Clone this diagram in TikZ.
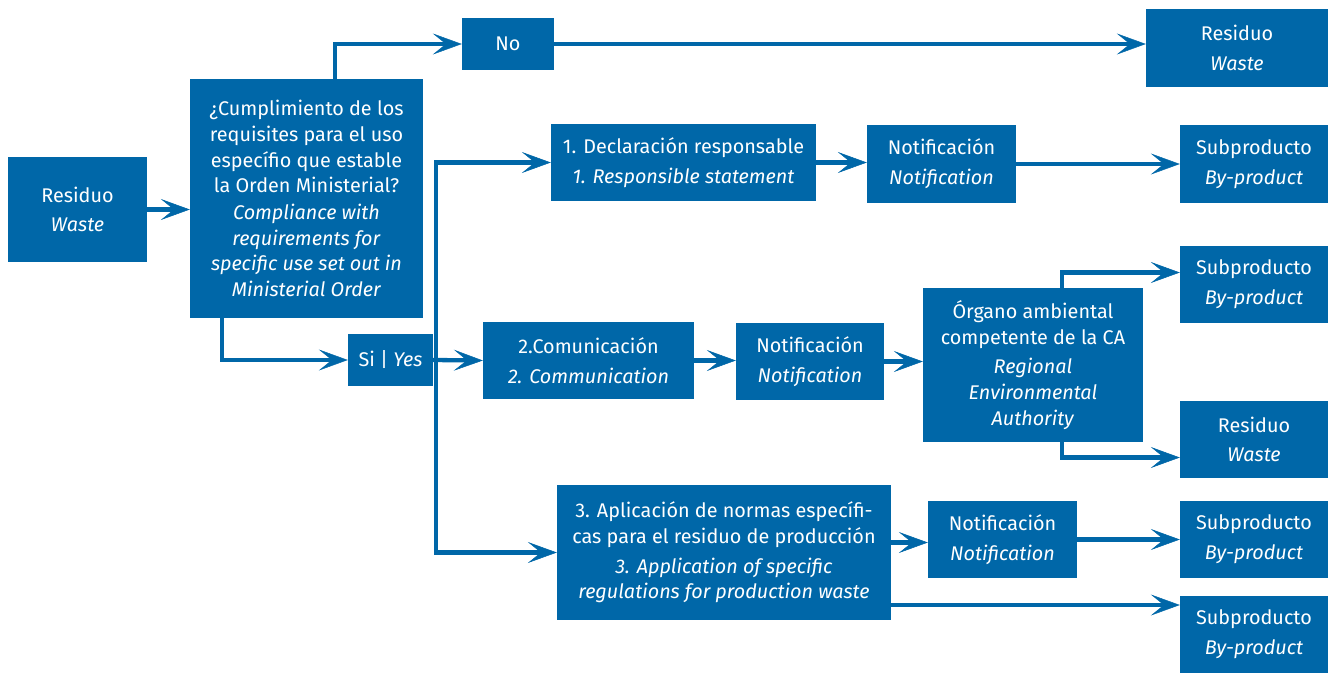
\documentclass[tikz,border=0pt]{standalone}
\usepackage{fontspec}
\setmainfont{Fira Sans}
\usetikzlibrary{arrows.meta,calc}
\definecolor{mblue}{RGB}{0,103,168}
\begin{document}
\begin{tikzpicture}[x=1pt,y=-1pt,
  box/.style={fill=mblue,text=white,align=center,inner sep=0pt,font=\fontsize{19.8}{25.7}\selectfont},
  ln/.style={draw=mblue,line width=4.3pt},
  arr/.style={ln,-{Stealth[length=29pt,width=21pt,inset=13pt,line width=0.5pt]}}]
\useasboundingbox (0,0) rectangle (1330,675);
% boxes
\node[box,minimum width=139pt,minimum height=105pt] (res) at (77.5,209.5) {Residuo\\[4pt]\textit{Waste}};
\node[box,minimum width=233pt,minimum height=239pt] (q) at (306.5,198.5) {¿Cumplimiento de los\\requisites para el uso\\específio que estable\\la Orden Ministerial?\\[1pt]\textit{Compliance with}\\\textit{requirements for}\\\textit{specific use set out in}\\\textit{Ministerial Order}};
\node[box,minimum width=92pt,minimum height=52pt] (no) at (508,44) {No};
\node[box,minimum width=182pt,minimum height=78pt] (rtr) at (1237,48) {Residuo\\[4pt]\textit{Waste}};
\node[box,minimum width=265pt,minimum height=77pt] (decl) at (683.5,162.5) {1. Declaración responsable\\[4pt]\textit{1. Responsible statement}};
\node[box,minimum width=149pt,minimum height=78pt] (not1) at (941.5,164) {Notificación\\[4pt]\textit{Notification}};
\node[box,minimum width=148pt,minimum height=78pt] (sub1) at (1254,164) {Subproducto\\[4pt]\textit{By-product}};
\node[box,minimum width=148pt,minimum height=77pt] (sub2) at (1254,284.5) {Subproducto\\[4pt]\textit{By-product}};
\node[box,minimum width=220pt,minimum height=154pt] (org) at (1033,365) {Órgano ambiental\\competente de la CA\\[4pt]\textit{Regional}\\\textit{Environmental}\\\textit{Authority}};
\node[box,minimum width=148pt,minimum height=77pt] (res2) at (1254,439.5) {Residuo\\[4pt]\textit{Waste}};
\node[box,minimum width=85pt,minimum height=52pt] (si) at (390.5,360) {Si | \textit{Yes}};
\node[box,minimum width=211pt,minimum height=77pt] (com) at (588.5,360.5) {2.Comunicación\\[4pt]\textit{2. Communication}};
\node[box,minimum width=148pt,minimum height=77pt] (not2) at (810,361.5) {Notificación\\[4pt]\textit{Notification}};
\node[box,minimum width=334pt,minimum height=135pt] (apl) at (724,552.5) {3. Aplicación de normas específi-\\cas para el residuo de producción\\[4pt]\textit{3. Application of specific}\\\textit{regulations for production waste}};
\node[box,minimum width=149pt,minimum height=77pt] (not3) at (1002.5,539.5) {Notificación\\[4pt]\textit{Notification}};
\node[box,minimum width=148pt,minimum height=77pt] (sub3) at (1254,539.5) {Subproducto\\[4pt]\textit{By-product}};
\node[box,minimum width=148pt,minimum height=77pt] (sub4) at (1254,634.5) {Subproducto\\[4pt]\textit{By-product}};
\coordinate (split) at (436,360);
% connectors
\draw[arr] (res.east) -- (res.east -| q.west);
\draw[arr] ([xshift=28.5pt]q.north) |- (no.west);
\draw[arr] (no.east) -- (no.east -| rtr.west);
\draw[arr] ([xshift=-84.5pt]q.south) |- (si.west);
\draw[arr] (si.east) -- (com.west);
\draw[arr] (split) |- (decl.west);
\draw[arr] (split) |- (apl.west);
\draw[arr] (decl.east) -- (decl.east -| not1.west);
\draw[arr] (not1.east) -- (sub1.west);
\draw[arr] (com.east) -- (com.east -| not2.west);
\draw[arr] (not2.east) -- (not2.east -| org.west);
\draw[arr] ([xshift=29pt]org.north) |- ([yshift=12pt]sub2.west);
\draw[arr] ([xshift=29pt]org.south) |- ([yshift=-18pt]res2.west);
\draw[arr] ([yshift=10pt]apl.east) -- ([yshift=10pt]apl.east -| not3.west);
\draw[arr] (not3.east) -- (not3.east -| sub3.west);
\draw[arr] ([yshift=-52.5pt]apl.east) -- ([yshift=-52.5pt]apl.east -| sub4.west);
\end{tikzpicture}
\end{document}
